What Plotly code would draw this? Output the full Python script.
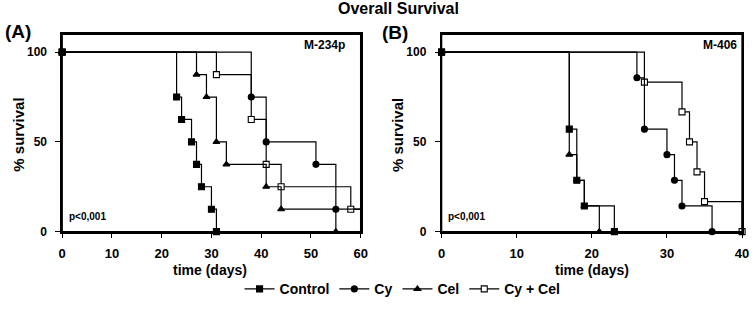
import plotly.graph_objects as go

# ---- data: panel A (M-234p) ----
ctrl_A_t = [0, 23, 24, 26, 27, 28, 30, 31]
ctrl_A_s = [100, 75, 62.5, 50, 37.5, 25, 12.5, 0]
cy_A_t = [0, 38, 41, 51, 55]
cy_A_s = [100, 75, 50, 37.5, 12.5]
cel_A_t = [0, 27, 29, 31, 33, 41, 44, 55]
cel_A_s = [100, 87.5, 75, 50, 37.5, 25, 12.5, 0]
cycel_A_t = [0, 31, 38, 41, 44, 58]
cycel_A_s = [100, 87.5, 62.5, 37.5, 25, 12.5]

# ---- data: panel B (M-406) ----
ctrl_B_t = [0, 17, 18, 19, 23]
ctrl_B_s = [100, 57.1, 28.6, 14.3, 0]
cel_B_t = [0, 17, 18, 19, 21]
cel_B_s = [100, 42.9, 28.6, 14.3, 0]
cy_B_t = [0, 26, 27, 30, 31, 32, 36]
cy_B_s = [100, 85.7, 57.1, 42.9, 28.6, 14.3, 0]
cycel_B_t = [0, 27, 32, 33, 34, 35, 40]
cycel_B_s = [100, 83.3, 66.7, 50, 33.3, 16.7, 0]

series_names = ["Control", "Cy", "Cel", "Cy + Cel"]
x_ticks_A = [0, 10, 20, 30, 40, 50, 60]
x_ticks_B = [0, 10, 20, 30, 40]
y_ticks = [0, 50, 100]

symbols = {"Control": "square", "Cy": "circle", "Cel": "triangle-up", "Cy + Cel": "square"}
fills = {"Control": "black", "Cy": "black", "Cel": "black", "Cy + Cel": "white"}
msize = {"Control": 6, "Cy": 6, "Cel": 6, "Cy + Cel": 6}

FONT = "Liberation Sans, Arial, sans-serif"
fig = go.Figure()

def marker_for(name):
    return dict(symbol=symbols[name], color=fills[name], size=msize[name],
                line=dict(color="black", width=1.1))

def add_series(name, t, s, xmax, xa, ya):
    xs = list(t)
    ys = list(s)
    if ys[-1] > 0:
        xs = xs + [xmax]
        ys = ys + [ys[-1]]
    fig.add_trace(go.Scatter(x=xs, y=ys, mode="lines", line=dict(shape="hv", color="black", width=1.2),
                             xaxis=xa, yaxis=ya, showlegend=False, cliponaxis=False, hoverinfo="skip"))
    fig.add_trace(go.Scatter(x=t, y=s, mode="markers", marker=marker_for(name), xaxis=xa, yaxis=ya,
                             showlegend=False, cliponaxis=False, hoverinfo="skip"))

panelA = [("Cy + Cel", cycel_A_t, cycel_A_s), ("Cel", cel_A_t, cel_A_s),
          ("Cy", cy_A_t, cy_A_s), ("Control", ctrl_A_t, ctrl_A_s)]
panelB = [("Cy + Cel", cycel_B_t, cycel_B_s), ("Cel", cel_B_t, cel_B_s),
          ("Cy", cy_B_t, cy_B_s), ("Control", ctrl_B_t, ctrl_B_s)]
for n, t, s in panelA:
    add_series(n, t, s, 60, "x", "y")
for n, t, s in panelB:
    add_series(n, t, s, 40, "x2", "y2")

# legend entries
for n in series_names:
    fig.add_trace(go.Scatter(x=[None], y=[None], mode="lines+markers", name=n, marker=marker_for(n),
                             line=dict(color="black", width=1.2), xaxis="x", yaxis="y"))

axis_common = dict(showline=True, linecolor="black", linewidth=1.5, mirror=True, ticks="outside",
                   ticklen=5, tickwidth=1.2, tickcolor="black", showgrid=False, zeroline=False)
xtickfont = dict(family=FONT, size=13, color="black", weight="bold")
ytickfont = dict(family=FONT, size=12, color="black", weight="bold")

XA = [59/756, 362/756]
XB = [444/756, 749/756]
YD = [1-237/309, 1-35/309]

fig.update_layout(
    margin=dict(l=0, r=0, t=0, b=0), autosize=True,
    plot_bgcolor="white", paper_bgcolor="white",
    xaxis=dict(domain=XA, range=[0, 60], tickvals=x_ticks_A, anchor="y", tickfont=xtickfont,
               ticklabelstandoff=4, **axis_common),
    yaxis=dict(domain=YD, range=[0, 110], tickvals=y_ticks, anchor="x", tickfont=ytickfont,
               ticklabelstandoff=6, **axis_common),
    xaxis2=dict(domain=XB, range=[0, 40], tickvals=x_ticks_B, anchor="y2", tickfont=xtickfont,
                ticklabelstandoff=4, **axis_common),
    yaxis2=dict(domain=YD, range=[0, 110], tickvals=y_ticks, anchor="x2", tickfont=ytickfont,
                ticklabelstandoff=6, **axis_common),
    legend=dict(orientation="h", x=0.535, xanchor="center", y=1-296/309, yanchor="middle",
                font=dict(family=FONT, size=14, color="black", weight="bold"),
                itemwidth=30, tracegroupgap=0, bgcolor="rgba(0,0,0,0)"),
    showlegend=True,
)

# frame boxes in paper coordinates
for xd in (XA, XB):
    fig.add_shape(type="rect", xref="paper", yref="paper", x0=xd[0], x1=xd[1], y0=YD[0], y1=YD[1],
                  line=dict(color="black", width=1.5), fillcolor="rgba(0,0,0,0)", layer="above")

def ann(text, x, y, size, xanchor="center", angle=0):
    fig.add_annotation(text=text, x=x/756, y=1-y/309, xref="paper", yref="paper", showarrow=False,
                       xanchor=xanchor, yanchor="middle", textangle=angle,
                       font=dict(family=FONT, size=size, color="black", weight="bold"))

ann("Overall Survival", 400, 9, 16)
ann("(A)", -1, 32, 19, xanchor="left")
ann("(B)", 382, 33, 19, xanchor="left")
ann("M-234p", 348, 46, 12, xanchor="right")
ann("M-406", 746, 46, 12, xanchor="right")
ann("p<0,001", 64, 222, 10, xanchor="left")
ann("p<0,001", 449, 222, 10, xanchor="left")
ann("% survival", 15, 138, 15, angle=-90)
ann("% survival", 400, 138, 15, angle=-90)
ann("time (days)", 209, 276, 14)
ann("time (days)", 597, 276, 14)

fig.write_html(
    "out.html", config={"displayModeBar": False, "responsive": True},
    default_width="100vw", default_height="100vh",
    post_script=("document.documentElement.style.margin='0';document.body.style.margin='0';"
                 "document.body.style.padding='0';document.documentElement.style.overflow='hidden';"
                 "document.body.style.overflow='hidden';"
                 "var d=document.getElementById('{plot_id}');d.style.position='fixed';"
                 "d.style.left='0px';d.style.top='0px';d.style.width='100vw';d.style.height='100vh';"
                 "Plotly.Plots.resize(d);"),
)
